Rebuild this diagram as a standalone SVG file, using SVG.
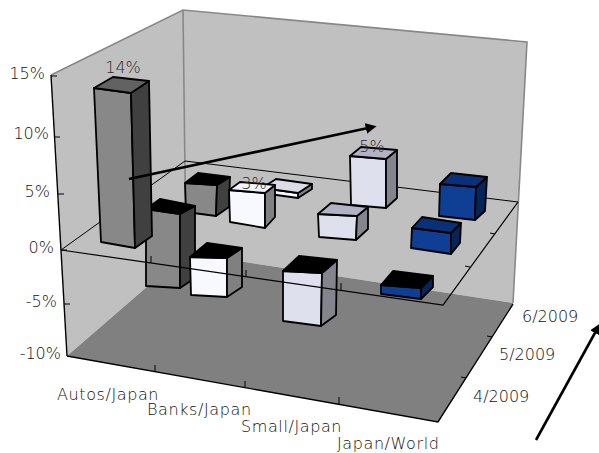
<svg xmlns="http://www.w3.org/2000/svg" width="599" height="453" viewBox="0 0 599 453">
<defs>
<style>
.lbl{font-family:"DejaVu Sans","Liberation Sans",sans-serif;font-size:16px;font-weight:300;fill:#111}
.cat{letter-spacing:0.6px}
.val{text-anchor:end}
.dl{text-anchor:middle;fill:#2a2a2a}
.wall{fill:#c0c0c0;stroke:none}
.floor{fill:#808080;stroke:none}
.edge{fill:none;stroke:#888;stroke-width:1.6}
.ax{fill:none;stroke:#000;stroke-width:1.4}
.thin{fill:none;stroke:#000;stroke-width:1}
.bar polygon{stroke:#000;stroke-width:1.8;stroke-linejoin:round}
.ag polygon.f{fill:#888}.ag polygon.s{fill:#404040}.ag polygon.t{fill:#626262}
.bw polygon.f{fill:#f8f8ff}.bw polygon.s{fill:#808080}.bw polygon.t{fill:#f2f2fa}
.sl polygon.f{fill:#dfe0ee}.sl polygon.s{fill:#84848c}.sl polygon.t{fill:#b2b2c6}
.bl polygon.f{fill:#0e3f95}.bl polygon.s{fill:#072459}.bl polygon.t{fill:#0a3178}
.bar polygon.n{fill:#000}
.arr{fill:none;stroke:#000;stroke-width:2.6}
</style>
<marker id="ah" viewBox="0 0 10 10" refX="2" refY="5" markerWidth="4.2" markerHeight="4.2" markerUnits="strokeWidth" orient="auto">
<path d="M0,0 L10,5 L0,10 z" fill="#000"/>
</marker>
</defs>

<g id="walls">
<polygon class="wall" points="51,75 183,10 527,42 513,303 186,253 67,356"/>
<polygon class="floor" points="67,356 186,253 513,303 438,422"/>
<polyline class="edge" points="51,75 183,10 527,42 513,303"/>
<line class="edge" x1="183" y1="10" x2="186" y2="253"/>
</g>

<g id="axes">
<line class="ax" x1="51" y1="75" x2="67" y2="356"/>
<g class="thin">
<line x1="51" y1="76" x2="57" y2="76"/>
<line x1="54" y1="137" x2="60" y2="137"/>
<line x1="58" y1="194" x2="64" y2="194"/>
<line x1="61" y1="250" x2="67" y2="250"/>
<line x1="64" y1="304" x2="70" y2="304"/>
</g>
<polyline class="ax" points="67,356 438,422 513,304"/>
<g class="thin">
<line x1="155" y1="372" x2="155" y2="365"/>
<line x1="245" y1="388" x2="245" y2="381"/>
<line x1="339" y1="404" x2="339" y2="397"/>
<line x1="466" y1="378" x2="461" y2="377"/>
<line x1="492" y1="337" x2="487" y2="336"/>
</g>
<polyline class="thin" points="61,250 185,161 518,202"/>
</g>

<g id="bars">
<g id="autos-6" class="bar ag">
<polygon class="f" points="185,183 217,185 216,216 186,212"/>
<polygon class="s" points="217,185 230,177 229,207 216,216"/>
<polygon class="n" points="185,183 198,173 230,177 217,185"/>
</g>
<g id="banks-6" class="bar bw">
<polygon class="f" points="262,188 298,193 298,198 262,193"/>
<polygon class="s" points="298,193 312,184 312,189 298,198"/>
<polygon class="t" style="fill:#dcdce8" points="262,188 276,179 312,184 298,193"/>
</g>
<g id="small-6" class="bar sl">
<polygon class="f" points="350,156 386,159 386,208 351,205"/>
<polygon class="s" points="386,159 397,150 397,198 386,208"/>
<polygon class="t" points="350,156 361,147 397,150 386,159"/>
</g>
<g id="world-6" class="bar bl">
<polygon class="f" points="440,184 476,187 475,220 439,216"/>
<polygon class="s" points="476,187 487,177 485,211 475,220"/>
<polygon class="t" points="440,184 451,173 487,177 476,187"/>
</g>
<g id="autos-5" class="bar ag">
<polygon class="f" points="146,209 180,214 180,288 146,286"/>
<polygon class="s" points="180,214 195,206 195,278 180,288"/>
<polygon class="n" points="146,209 160,199 195,206 180,214"/>
</g>
<g id="banks-5" class="bar bw">
<polygon class="f" points="229,190 265,193 265,228 230,222"/>
<polygon class="s" points="265,193 275,185 275,217 265,228"/>
<polygon class="t" points="229,190 240,182 275,185 265,193"/>
</g>
<g id="small-5" class="bar sl">
<polygon class="f" points="318,214 357,216 356,240 319,237"/>
<polygon class="s" points="357,216 368,207 368,229 356,240"/>
<polygon class="t" points="318,214 331,203 368,207 357,216"/>
</g>
<g id="world-5" class="bar bl">
<polygon class="f" points="412,228 451,233 451,254 411,248"/>
<polygon class="s" points="451,233 461,223 460,243 451,254"/>
<polygon class="t" points="412,228 422,217 461,223 451,233"/>
</g>
<g id="autos-4" class="bar ag">
<polygon class="f" points="94,88 131,93 135,248 101,242"/>
<polygon class="s" points="131,93 149,81 152,236 135,248"/>
<polygon class="t" points="94,88 113,77 149,81 131,93"/>
</g>
<g id="banks-4" class="bar bw">
<polygon class="f" points="190,257 227,258 227,297 191,295"/>
<polygon class="s" points="227,258 242,248 242,287 227,297"/>
<polygon class="n" points="190,257 207,243 242,248 227,258"/>
</g>
<g id="small-4" class="bar sl">
<polygon class="f" points="283,271 322,273 321,326 283,321"/>
<polygon class="s" points="322,273 337,260 336,315 321,326"/>
<polygon class="n" points="283,271 299,256 337,260 322,273"/>
</g>
<g id="world-4" class="bar bl">
<polygon class="f" points="381,285 421,288 421,299 381,294"/>
<polygon class="s" points="421,288 433,276 433,287 421,299"/>
<polygon class="n" points="381,285 393,271 433,276 421,288"/>
</g>
</g>

<g id="connectors">
<polyline class="thin" style="stroke-width:1.2" points="61,250 443,305 518,202"/>
<g class="thin">
<line x1="151" y1="263" x2="151" y2="256"/>
<line x1="246" y1="277" x2="246" y2="270"/>
<line x1="341" y1="290" x2="341" y2="283"/>
<line x1="470" y1="267" x2="465" y2="266"/>
<line x1="495" y1="234" x2="490" y2="233"/>
</g>
<line class="arr" x1="129" y1="179" x2="368" y2="128" marker-end="url(#ah)"/>
<line class="arr" x1="536" y1="440" x2="596" y2="331" marker-end="url(#ah)"/>
</g>

<g id="labels">
<text class="lbl val" x="45" y="79">15%</text>
<text class="lbl val" x="49" y="139">10%</text>
<text class="lbl val" x="50" y="197">5%</text>
<text class="lbl val" x="54" y="253">0%</text>
<text class="lbl val" x="57" y="307">-5%</text>
<text class="lbl val" x="61" y="359">-10%</text>
<text class="lbl cat" x="57" y="400">Autos/Japan</text>
<text class="lbl cat" x="147" y="415">Banks/Japan</text>
<text class="lbl cat" x="241" y="432">Small/Japan</text>
<text class="lbl cat" x="337" y="449">Japan/World</text>
<text class="lbl" x="522" y="322">6/2009</text>
<text class="lbl" x="499" y="360">5/2009</text>
<text class="lbl" x="473" y="402">4/2009</text>
<text class="lbl dl" x="123" y="73">14%</text>
<text class="lbl dl" x="254" y="189">3%</text>
<text class="lbl dl" x="372" y="152">5%</text>
</g>
</svg>
